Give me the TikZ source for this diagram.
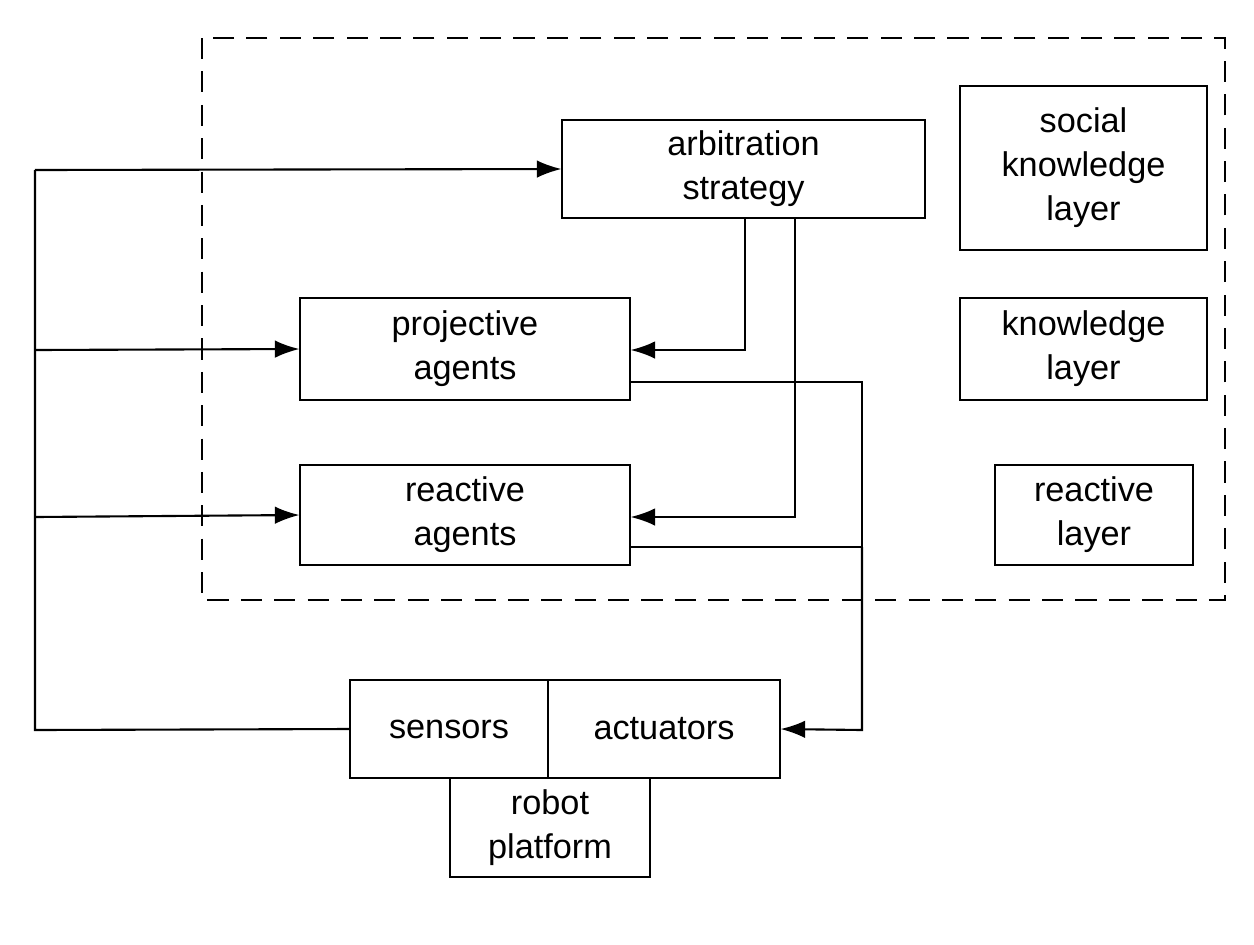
\documentclass[tikz,border=0pt]{standalone}
\usepackage{fontspec}
\setmainfont{Liberation Sans}
\usetikzlibrary{arrows.meta}
\begin{document}
\begin{tikzpicture}[x=0.02cm,y=-0.02cm,
 box/.style={draw,line width=0.6pt,inner sep=0pt,align=center,font=\fontsize{19.5}{25}\selectfont},
 conn/.style={line width=1.2pt,-{Latex[length=14pt,width=10pt]}},
 ln/.style={line width=1.2pt}]
\useasboundingbox (0,0) rectangle (1254,944);
\draw[dashed,line width=1.2pt,dash pattern=on 12pt off 7pt] (202,38) rectangle (1225,600);
\node[box,minimum width=363*0.02cm,minimum height=98*0.02cm] (arb) at (743.5,169) {arbitration\\strategy};
\node[box,minimum width=247*0.02cm,minimum height=164*0.02cm] (skl) at (1083.5,168) {social\\knowledge\\layer};
\node[box,minimum width=247*0.02cm,minimum height=102*0.02cm] (kl) at (1083.5,349) {knowledge\\layer};
\node[box,minimum width=198*0.02cm,minimum height=100*0.02cm] (rl) at (1094,515) {reactive\\layer};
\node[box,minimum width=330*0.02cm,minimum height=102*0.02cm] (pa) at (465,349) {projective\\agents};
\node[box,minimum width=330*0.02cm,minimum height=100*0.02cm] (ra) at (465,515) {reactive\\agents};
\node[box,minimum width=198*0.02cm,minimum height=98*0.02cm] (sen) at (449,729) {sensors};
\node[box,minimum width=232*0.02cm,minimum height=98*0.02cm] (act) at (664,729) {actuators};
\node[box,minimum width=200*0.02cm,minimum height=99*0.02cm] (rp) at (550,827.5) {robot\\platform};
\coordinate (bl) at (35,730);
\draw[ln] (sen.west) -- (bl) -- (35,170);
\draw[conn] (35,170) -- (arb.west);
\draw[conn] (35,350) -- (pa.west);
\draw[conn] (35,517) -- (ra.west);
\draw[conn] (745,218) -- (745,350) -- (pa.east |- 0,350);
\draw[conn] (795,218) -- (795,517) -- (ra.east |- 0,517);
\draw[ln] (630,382) -- (862,382) -- (862,547) -- (630,547);
\draw[conn] (862,547) -- (862,730) -- (act.east);
\end{tikzpicture}
\end{document}
